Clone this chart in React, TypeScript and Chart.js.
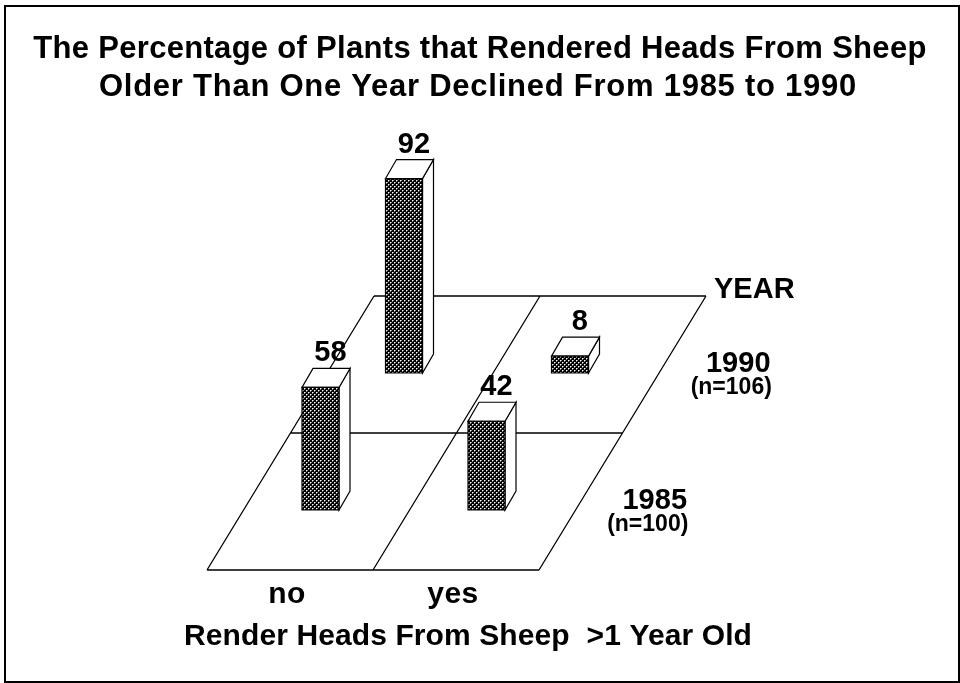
import React, { useEffect, useRef } from 'react';
import { Chart, registerables } from 'chart.js';

Chart.register(...registerables);

// ---- data ----
const categories = ['no', 'yes'];
const years = ['1985', '1990'];
const yearCounts = [100, 106];
const values1985 = [58, 42];
const values1990 = [92, 8];
const titleLines = [
  'The Percentage of Plants that Rendered Heads From Sheep',
  'Older Than One Year Declined From 1985 to 1990',
];
const xAxisTitle = 'Render Heads From Sheep  >1 Year Old';
const depthAxisTitle = 'YEAR';

// ---- styling / geometry ----
const FONT = "'Liberation Sans', Arial, Helvetica, sans-serif";
const ROW_DX = 83.5; // shift of one year row into depth
const ROW_DY = -137;
const BAR_W = 37;
const BAR_DX = 11; // block depth
const BAR_DY = -19;
const FLOOR_FRONT = 60; // floor front edge below the front row base
const FLOOR_LEFT_SHIFT = -30.5;

function makePattern(ctx: CanvasRenderingContext2D) {
  const c = document.createElement('canvas');
  c.width = 4;
  c.height = 4;
  const p = c.getContext('2d')!;
  p.fillStyle = '#000';
  p.fillRect(0, 0, 4, 4);
  p.fillStyle = '#ffffff';
  p.fillRect(0, 0, 1, 1);
  p.fillRect(2, 2, 1, 1);
  p.fillStyle = '#808080';
  p.fillRect(1, 0, 1, 1);
  p.fillRect(0, 1, 1, 1);
  p.fillRect(3, 2, 1, 1);
  p.fillRect(2, 3, 1, 1);
  return ctx.createPattern(c, 'repeat')!;
}

function setSpacing(ctx: CanvasRenderingContext2D, px: number) {
  (ctx as any).letterSpacing = `${px}px`;
}

const blockPlugin = {
  id: 'block3d',
  beforeDraw(chart: any) {
    const ctx: CanvasRenderingContext2D = chart.ctx;
    ctx.save();
    ctx.fillStyle = '#fff';
    ctx.fillRect(0, 0, chart.width, chart.height);
    ctx.strokeStyle = '#000';
    ctx.lineWidth = 2;
    ctx.strokeRect(5, 6, 954, 676);
    ctx.restore();
  },
  afterDatasetsDraw(chart: any) {
    const ctx: CanvasRenderingContext2D = chart.ctx;
    const xs = chart.scales.x;
    const ys = chart.scales.y;
    const nCat = categories.length;
    const nRow = years.length;
    const c0 = xs.getPixelForValue(0);
    const c1 = xs.getPixelForValue(1);
    const step = c1 - c0;
    const base = ys.getPixelForValue(0);
    const flx = c0 - step / 2 + FLOOR_LEFT_SHIFT;
    const fly = base + FLOOR_FRONT;
    const P = (u: number, v: number): [number, number] => [
      flx + u * step + v * ROW_DX,
      fly + v * ROW_DY,
    ];

    ctx.save();
    // title
    ctx.fillStyle = '#000';
    ctx.textAlign = 'center';
    ctx.textBaseline = 'alphabetic';
    ctx.font = `bold 31px ${FONT}`;
    setSpacing(ctx, 0.3);
    ctx.fillText(titleLines[0], 480, 58);
    setSpacing(ctx, 0.75);
    ctx.fillText(titleLines[1], 478, 96);

    // floor grid
    setSpacing(ctx, 0);
    ctx.strokeStyle = '#000';
    ctx.lineWidth = 1.3;
    ctx.beginPath();
    for (let v = 0; v <= nRow; v++) {
      const a = P(0, v);
      const b = P(nCat, v);
      ctx.moveTo(a[0], a[1]);
      ctx.lineTo(b[0], b[1]);
    }
    for (let u = 0; u <= nCat; u++) {
      const a = P(u, 0);
      const b = P(u, nRow);
      ctx.moveTo(a[0], a[1]);
      ctx.lineTo(b[0], b[1]);
    }
    ctx.stroke();

    // category labels
    ctx.font = `bold 30px ${FONT}`;
    setSpacing(ctx, 0.5);
    categories.forEach((c, i) => {
      const p = P(i + 0.5, 0);
      ctx.fillText(c, p[0] - 3, p[1] + 33);
    });
    setSpacing(ctx, 0.1);
    ctx.fillText(xAxisTitle, 468, 645);

    // year labels
    setSpacing(ctx, 0);
    years.forEach((yr, r) => {
      const p = P(nCat, r + 0.5);
      ctx.font = `bold 29px ${FONT}`;
      ctx.fillText(yr, p[0] + 74, p[1] + 7);
      ctx.font = `bold 23px ${FONT}`;
      ctx.fillText(`(n=${yearCounts[r]})`, p[0] + 67, p[1] + 29);
    });
    const corner = P(nCat, nRow);
    ctx.textAlign = 'left';
    ctx.font = `bold 29px ${FONT}`;
    ctx.fillText(depthAxisTitle, corner[0] + 8, corner[1] + 2);

    // blocks: back row first
    const pattern = makePattern(ctx);
    const poly = (pts: [number, number][], fill: any) => {
      ctx.beginPath();
      ctx.moveTo(pts[0][0], pts[0][1]);
      for (let k = 1; k < pts.length; k++) ctx.lineTo(pts[k][0], pts[k][1]);
      ctx.closePath();
      ctx.fillStyle = fill;
      ctx.fill();
      ctx.stroke();
    };
    ctx.lineWidth = 1.2;
    for (let r = nRow - 1; r >= 0; r--) {
      const meta = chart.getDatasetMeta(r);
      const values = chart.data.datasets[r].data as number[];
      meta.data.forEach((el: any, i: number) => {
        const { x, y, base: b, width } = el.getProps(['x', 'y', 'base', 'width'], true);
        const ox = r * ROW_DX;
        const oy = r * ROW_DY;
        const L = x - width / 2 + ox;
        const R = x + width / 2 + ox;
        const T = y + oy;
        const B = b + oy;
        poly([[R, B], [R, T], [R + BAR_DX, T + BAR_DY], [R + BAR_DX, B + BAR_DY]], '#fff');
        poly([[L, T], [R, T], [R + BAR_DX, T + BAR_DY], [L + BAR_DX, T + BAR_DY]], '#fff');
        poly([[L, B], [L, T], [R, T], [R, B]], pattern);
        ctx.fillStyle = '#000';
        ctx.textAlign = 'center';
        ctx.font = `bold 29px ${FONT}`;
        ctx.fillText(String(values[i]), (L + R) / 2 + BAR_DX * 0.9, T + BAR_DY - 7);
      });
    }
    ctx.restore();
  },
};

export default function App() {
  const ref = useRef<HTMLCanvasElement | null>(null);
  useEffect(() => {
    if (!ref.current) return;
    const chart = new Chart(ref.current, {
      type: 'bar',
      data: {
        labels: categories,
        datasets: [
          { label: years[0], data: values1985, backgroundColor: 'rgba(0,0,0,0)', borderWidth: 0, barThickness: BAR_W, grouped: false } as any,
          { label: years[1], data: values1990, backgroundColor: 'rgba(0,0,0,0)', borderWidth: 0, barThickness: BAR_W, grouped: false } as any,
        ],
      },
      options: {
        responsive: false,
        animation: false,
        devicePixelRatio: 1,
        events: [],
        layout: { padding: { left: 237.5, right: 390.5, top: 193, bottom: 173 } },
        plugins: { legend: { display: false }, title: { display: false }, tooltip: { enabled: false } },
        scales: {
          x: { type: 'category', display: false, offset: true },
          y: { type: 'linear', display: false, min: 0, max: 150 },
        },
      },
      plugins: [blockPlugin],
    });
    return () => chart.destroy();
  }, []);
  return (
    <div style={{ position: 'fixed', left: 0, top: 0, width: 960, height: 683, background: '#fff' }}>
      <canvas ref={ref} width={960} height={683} style={{ display: 'block' }} />
    </div>
  );
}
